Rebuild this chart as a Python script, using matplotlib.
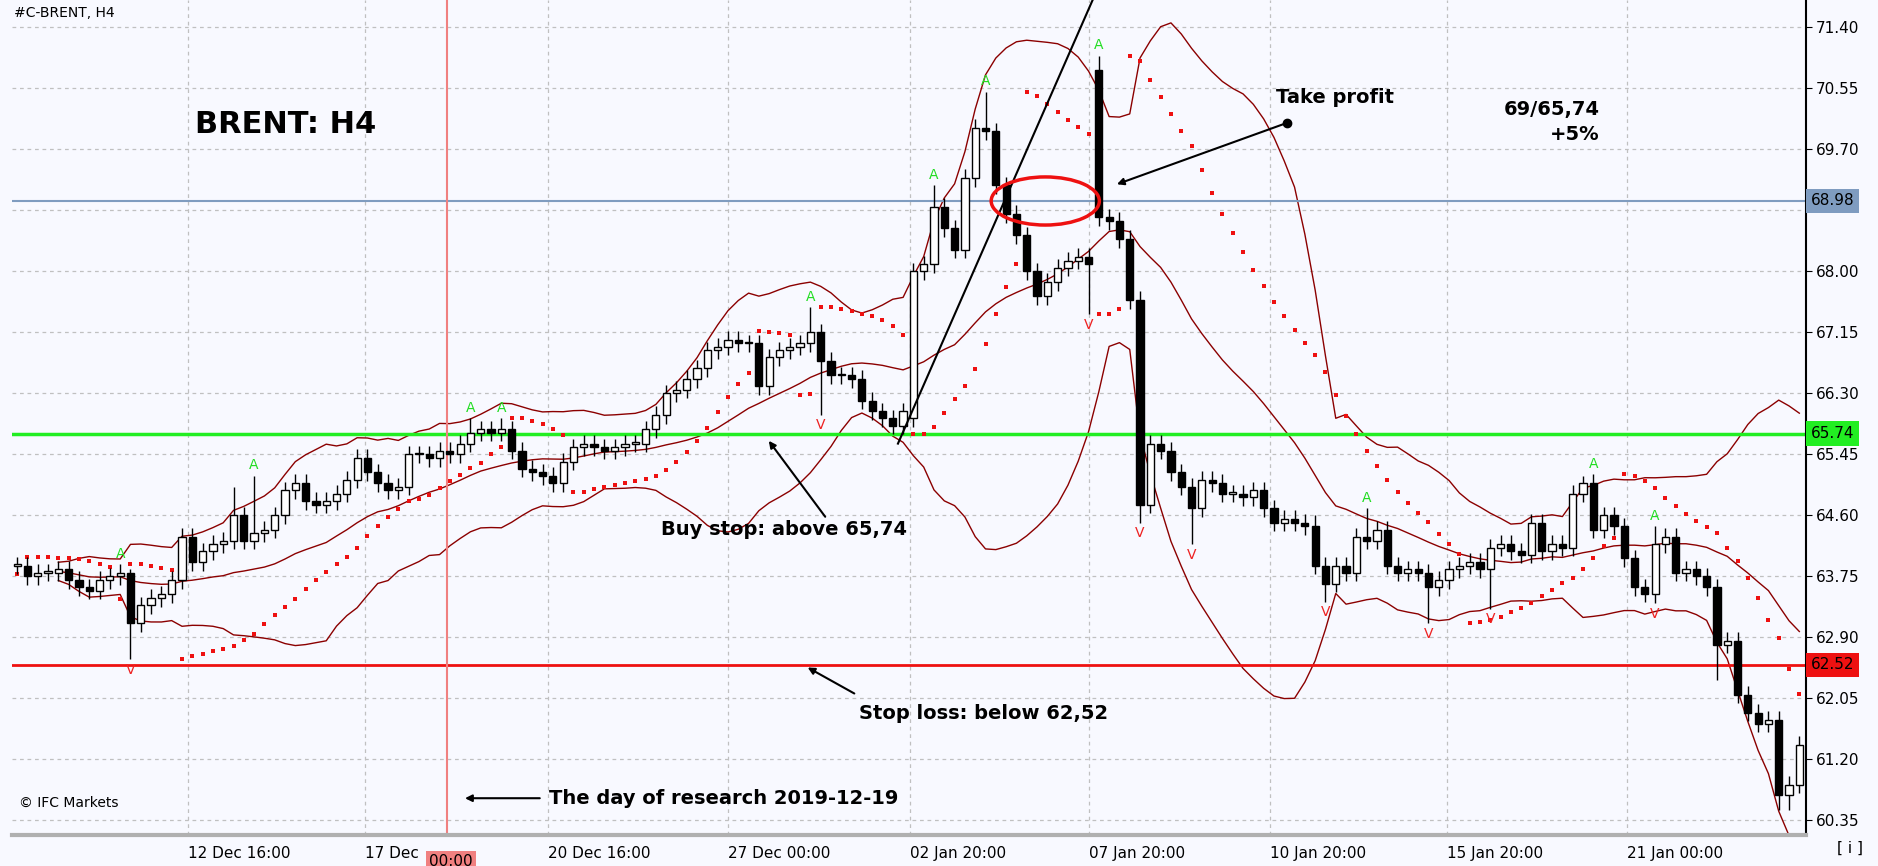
import numpy as np
import pandas as pd
import matplotlib
matplotlib.use("Agg")
import matplotlib.pyplot as plt
from matplotlib.patches import Rectangle, Ellipse

closes = [63.9,63.75,63.8,63.8,63.85,63.7,63.6,63.55,63.7,63.75,63.8,
          63.1,63.35,63.45,63.5,63.7,64.3,63.95,64.1,64.2,64.25,64.6,64.25,64.35,64.4,64.6,64.95,65.05,64.8,64.75,
          64.8,64.9,65.1,65.4,65.2,65.05,64.95,65.0,65.45,65.45,65.4,65.5,65.45,65.6,65.75,65.8,65.75,65.8,65.5,65.25,
          65.2,65.15,65.05,65.35,65.55,65.6,65.55,65.5,65.55,65.6,65.6,65.8,66.0,66.3,66.35,66.5,66.65,66.9,66.95,67.05,
          67.0,67.0,66.4,66.8,66.9,66.95,67.0,67.15,66.75,66.55,66.55,66.5,66.2,66.05,65.95,65.85,66.05,68.0,68.1,68.9,
          68.6,68.3,69.3,70.0,69.95,69.2,68.8,68.5,68.0,67.65,67.85,68.05,68.15,68.2,68.1,68.75,68.7,68.45,67.6,64.75,
          65.6,65.5,65.2,65.0,64.7,65.1,65.05,64.9,64.9,64.85,64.95,64.7,64.5,64.55,64.5,64.45,63.9,63.65,63.9,63.8,
          64.3,64.25,64.4,63.9,63.8,63.85,63.8,63.6,63.7,63.85,63.9,63.95,63.85,64.15,64.2,64.1,64.05,64.5,64.1,64.2,
          64.15,64.9,65.05,64.4,64.6,64.45,64.0,63.6,63.5,64.2,64.3,63.8,63.85,63.75,63.6,62.8,62.85,62.1,61.85,61.7,
          61.75,60.7,60.85,61.4]
open_overrides = {105: 70.8, 87: 65.95}
high_overrides = {11: 63.85, 21: 65.0, 23: 65.15, 44: 65.95, 47: 65.95, 77: 67.5, 89: 69.2, 94: 70.5,
                  105: 71.0, 152: 65.15, 159: 64.45, 126: 64.6, 131: 64.7}
low_overrides = {11: 62.6, 78: 66.0, 104: 67.4, 109: 64.5, 114: 64.2, 127: 63.4, 137: 63.1,
                 143: 63.3, 158: 63.4, 171: 60.5, 172: 60.5, 165: 62.3}
tick_pos = [16.6, 33.8, 51.5, 69.0, 86.7, 104.0, 121.6, 138.8, 156.3]
tick_labels = ["12 Dec 16:00", "17 Dec", "20 Dec 16:00", "27 Dec 00:00", "02 Jan 20:00",
               "07 Jan 20:00", "10 Jan 20:00", "15 Jan 20:00", "21 Jan 00:00"]
price_ticks = [60.35, 61.20, 62.05, 62.90, 63.75, 64.60, 65.45, 66.30, 67.15, 68.00, 68.85, 69.70, 70.55, 71.40]
levels = {"tp": 68.98, "buy": 65.74, "sl": 62.52}

n = len(closes)
c = np.array(closes)
o = np.r_[c[0], c[:-1]].astype(float)
for k, v in open_overrides.items():
    o[k] = v
wick = 0.12
h = np.maximum(o, c) + wick
l = np.minimum(o, c) - wick
for k, v in high_overrides.items():
    h[k] = v
for k, v in low_overrides.items():
    l[k] = v

s = pd.Series(c)
mid = s.rolling(20, min_periods=5).mean()
sd = s.rolling(20, min_periods=5).std(ddof=0)
up, lo = mid + 2.5 * sd, mid - 2.5 * sd

# parabolic SAR
sar = np.zeros(n); bull = True; af = 0.02; ep = h[0]; sar[0] = l[0]
for i in range(1, n):
    sar[i] = sar[i-1] + af * (ep - sar[i-1])
    if bull:
        sar[i] = min(sar[i], l[i-1], l[max(i-2, 0)])
        if l[i] < sar[i]:
            bull = False; sar[i] = ep; ep = l[i]; af = 0.02
        elif h[i] > ep:
            ep = h[i]; af = min(af + 0.02, 0.2)
    else:
        sar[i] = max(sar[i], h[i-1], h[max(i-2, 0)])
        if h[i] > sar[i]:
            bull = True; sar[i] = ep; ep = h[i]; af = 0.02
        elif l[i] < ep:
            ep = l[i]; af = min(af + 0.02, 0.2)

bg = "#F8F9FF"
fig = plt.figure(figsize=(18.78, 8.66), dpi=100, facecolor=bg)
ax = fig.add_axes([0.0064, 0.036, 0.955, 0.964], facecolor=bg)
ax.set_xlim(-0.5, 173.6)
ax.set_ylim(60.15, 71.78)

for p in tick_pos:
    ax.axvline(p, color="#c0c0c0", ls=(0, (3, 3)), lw=0.9, zorder=0)
for p in price_ticks:
    ax.axhline(p, color="#c0c0c0", ls=(0, (3, 3)), lw=0.9, zorder=0)

ax.plot(range(n), up, color="#8B0000", lw=1)
ax.plot(range(n), mid, color="#8B0000", lw=1)
ax.plot(range(n), lo, color="#8B0000", lw=1)
ax.scatter(range(n), sar, marker="s", s=12, color="#ee1111", zorder=3, linewidths=0)

ax.axhline(levels["tp"], color="#7f9cc0", lw=1.5, zorder=2)
ax.axhline(levels["buy"], color="#22ee22", lw=2.5, zorder=2)
ax.axhline(levels["sl"], color="#ee1111", lw=2, zorder=2)
ax.axvline(41.7, color="#f08080", lw=1.5, zorder=2)

w = 0.7
for i in range(n):
    ax.vlines(i, l[i], h[i], color="black", lw=1, zorder=4)
    bot, top = min(o[i], c[i]), max(o[i], c[i])
    ax.add_patch(Rectangle((i - w / 2, bot), w, max(top - bot, 0.02),
                           facecolor="white" if c[i] >= o[i] else "black",
                           edgecolor="black", lw=1, zorder=5))

for i in range(2, n - 2):
    if h[i] > max(h[i-2], h[i-1], h[i+1], h[i+2]):
        ax.text(i, h[i] + 0.05, "A", color="#22dd22", ha="center", va="bottom", fontsize=10, zorder=6)
    if l[i] < min(l[i-2], l[i-1], l[i+1], l[i+2]):
        ax.text(i, l[i] - 0.05, "V", color="#ee2222", ha="center", va="top", fontsize=10, zorder=6)

ax.plot([85.5, 104.4], [65.6, 71.78], color="black", lw=1.5, zorder=6)
ax.add_patch(Ellipse((99.8, 68.98), 10.5, 0.67, fill=False, edgecolor="#ee1111", lw=2.5, zorder=7))

bold = dict(fontsize=14, fontweight="bold", color="black", zorder=8)
ax.text(17.3, 70.05, "BRENT: H4", fontsize=22, fontweight="bold", va="center")
ax.text(122.2, 70.42, "Take profit", va="center", **bold)
ax.plot([123.3], [70.07], "o", color="black", ms=6, zorder=8)
ax.annotate("", xy=(106.5, 69.2), xytext=(123.3, 70.07),
            arrowprops=dict(arrowstyle="-|>", color="black", lw=1.5))
ax.text(153.6, 70.25, "69/65,74", ha="right", va="center", **bold)
ax.text(153.6, 69.9, "+5%", ha="right", va="center", **bold)
ax.text(62.5, 64.4, "Buy stop: above 65,74", va="center", **bold)
ax.annotate("", xy=(72.8, 65.67), xytext=(78.6, 64.55),
            arrowprops=dict(arrowstyle="-|>", color="black", lw=1.5))
ax.text(81.7, 61.84, "Stop loss: below 62,52", va="center", **bold)
ax.annotate("", xy=(76.5, 62.5), xytext=(81.5, 62.1),
            arrowprops=dict(arrowstyle="-|>", color="black", lw=1.5))
ax.text(51.6, 60.66, "The day of research 2019-12-19", va="center", **bold)
ax.annotate("", xy=(43.2, 60.66), xytext=(51.0, 60.66),
            arrowprops=dict(arrowstyle="-|>", color="black", lw=1.5))
ax.text(0.2, 60.6, "© IFC Markets", fontsize=10, va="center")
ax.text(-0.3, 71.6, "#C-BRENT, H4", fontsize=10, va="center")

ax.yaxis.tick_right()
ax.set_yticks(price_ticks)
ax.set_yticklabels(["" if abs(p - 68.85) < 1e-6 else f"{p:.2f}" for p in price_ticks], fontsize=11)
ax.set_xticks(tick_pos)
ax.set_xticklabels(tick_labels, fontsize=11, ha="left")
ax.tick_params(axis="x", length=0, pad=8)
ax.tick_params(axis="y", length=4)
for sp in ["top", "left"]:
    ax.spines[sp].set_visible(False)
ax.spines["right"].set_linewidth(1.5)
ax.spines["bottom"].set_color("#b0b0b0")
ax.spines["bottom"].set_linewidth(3)

for val, col in [(levels["tp"], "#7f9cc0"), (levels["buy"], "#22ee22"), (levels["sl"], "#ee1111")]:
    ax.text(1.003, (val - 60.15) / (71.78 - 60.15), f"{val:.2f}", transform=ax.transAxes,
            fontsize=11, va="center", ha="left", color="black",
            bbox=dict(boxstyle="square,pad=0.3", facecolor=col, edgecolor="none"), zorder=9)
ax.text(40.0, -0.032, "00:00", transform=ax.get_xaxis_transform(), fontsize=11, ha="left",
        va="center", bbox=dict(boxstyle="square,pad=0.2", facecolor="#f08080", edgecolor="none"))
fig.text(0.985, 0.015, "[ i ]", fontsize=11, ha="center")

fig.savefig("out.png", dpi=100, facecolor=bg)
